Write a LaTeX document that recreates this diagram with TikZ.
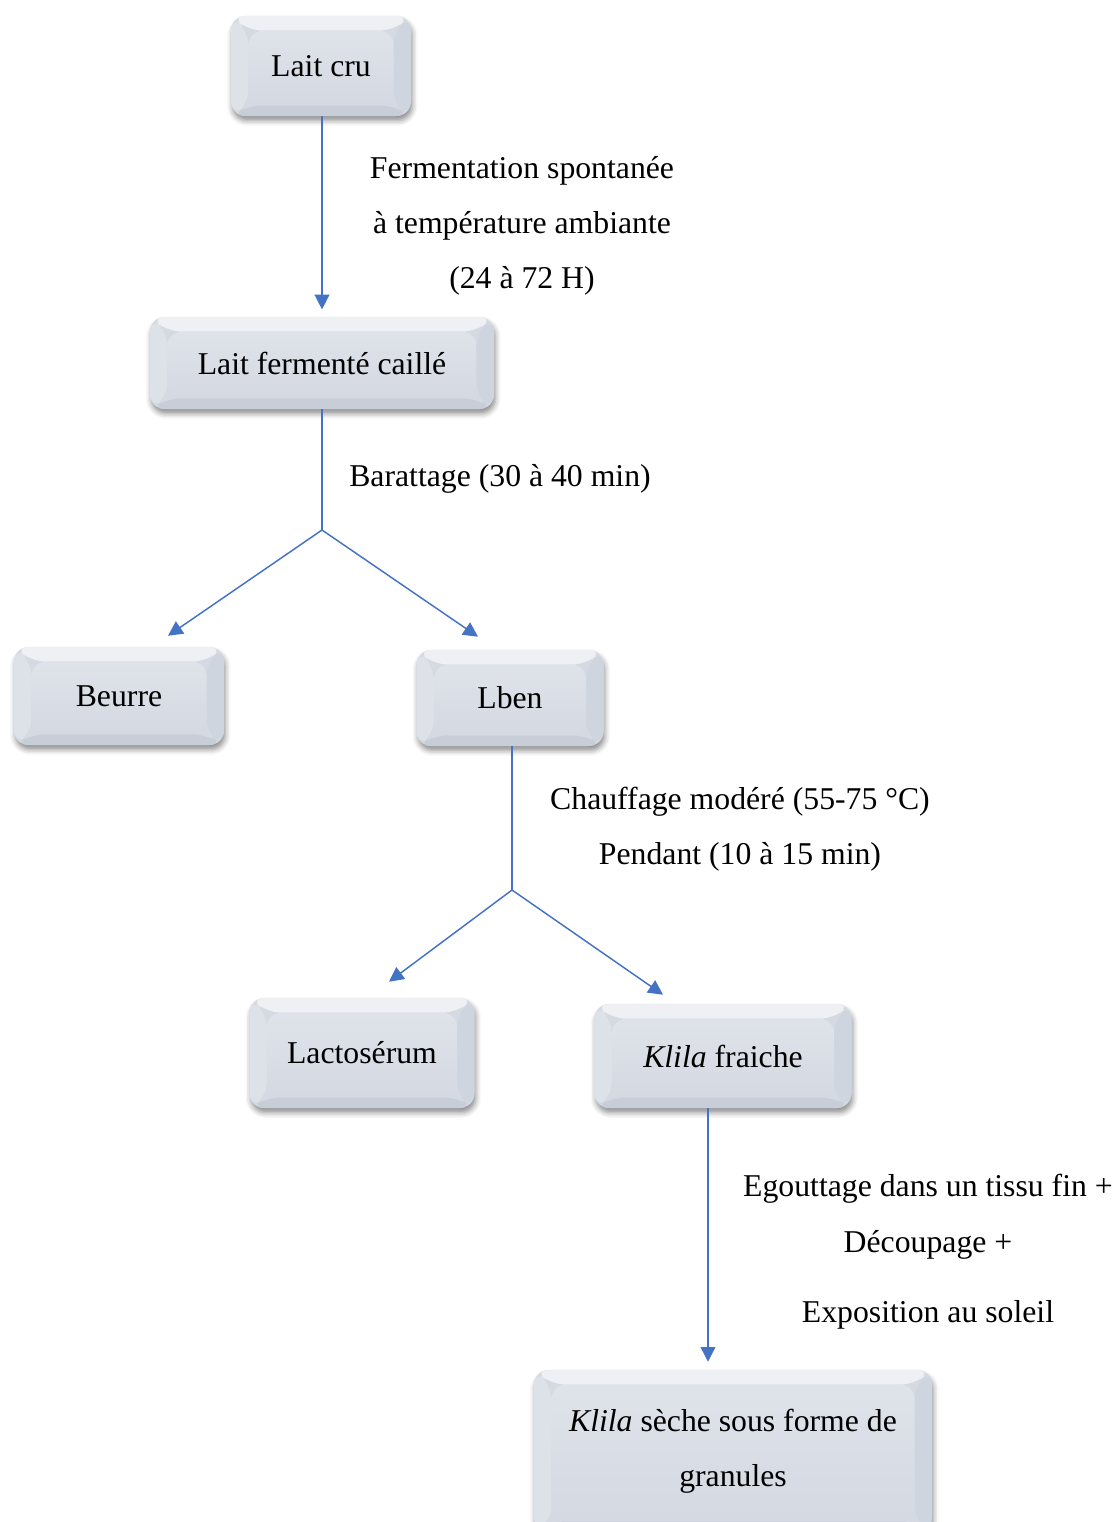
\documentclass[tikz,border=0pt]{standalone}
\usepackage{fontspec}
\setmainfont{Liberation Serif}
\usetikzlibrary{arrows.meta,calc,shadows.blur}

\definecolor{flowblue}{HTML}{4472C4}
\definecolor{bevface}{HTML}{D4D9E2}
\definecolor{bevtop}{HTML}{EEF0F4}
\definecolor{bevleft}{HTML}{DDE1E8}
\definecolor{bevright}{HTML}{CFD5DE}
\definecolor{bevbottom}{HTML}{C8CED8}

\tikzset{
  bevelbox/.style 2 args={
    rounded corners=11pt, draw=none, fill=bevface,
    minimum width=#1*0.75pt, minimum height=#2*0.75pt,
    font=\fontsize{23.8}{41}\selectfont, align=center, inner sep=0pt,
    blur shadow={shadow xshift=1pt, shadow yshift=-3.5pt,
                 shadow blur radius=4pt, shadow opacity=45},
    path picture={
      \coordinate (pNW) at (path picture bounding box.north west);
      \coordinate (pNE) at (path picture bounding box.north east);
      \coordinate (pSW) at (path picture bounding box.south west);
      \coordinate (pSE) at (path picture bounding box.south east);
      \coordinate (iNW) at ([xshift=13pt,yshift=-11pt]pNW);
      \coordinate (iNE) at ([xshift=-13pt,yshift=-11pt]pNE);
      \coordinate (iSW) at ([xshift=13pt,yshift=8pt]pSW);
      \coordinate (iSE) at ([xshift=-13pt,yshift=8pt]pSE);
      \fill[bevtop] (pNW) -- (pNE) -- (iNE) -- (iNW) -- cycle;
      \fill[bevleft] (pNW) -- (iNW) -- (iSW) -- (pSW) -- cycle;
      \fill[bevright] (pNE) -- (iNE) -- (iSE) -- (pSE) -- cycle;
      \fill[bevbottom] (pSW) -- (iSW) -- (iSE) -- (pSE) -- cycle;
      \shade[top color=bevface!75!white, bottom color=bevface]
        (iNW) rectangle (iSE);
    }
  },
  flow/.style={draw=flowblue, line width=1.1pt},
  arr/.style={flow, -{Triangle[length=11pt,width=11pt]}},
  steplabel/.style={font=\fontsize{23.8}{41}\selectfont, align=center, inner sep=0pt}
}

\begin{document}
\begin{tikzpicture}[x=0.75pt,y=-0.75pt]
  \useasboundingbox (0,0) rectangle (1117,1522);

  % process boxes
  \node[bevelbox={180}{100}] (laitcru)  at (321,66)   {Lait cru};
  \node[bevelbox={344}{92}]  (fermente) at (322,363)  {Lait fermenté caillé};
  \node[bevelbox={210}{98}]  (beurre)   at (119,696)  {Beurre};
  \node[bevelbox={187}{96}]  (lben)     at (510,698)  {Lben};
  \node[bevelbox={225}{110}] (lacto)    at (362,1053) {Lactosérum};
  \node[bevelbox={257}{104}] (kfraiche) at (723,1056) {\textit{Klila} fraiche};
  \node[bevelbox={398}{162}] (kseche)   at (733,1451)
       {\textit{Klila} sèche sous forme de\\granules};

  % step labels
  \node[steplabel] (lab1) at (522,226)
       {Fermentation spontanée\\à température ambiante\\(24 à 72 H)};
  \node[steplabel] (lab2) at (500,479) {Barattage (30 à 40 min)};
  \node[steplabel] (lab3) at (740,829)
       {Chauffage modéré (55-75 °C)\\Pendant (10 à 15 min)};
  \node[steplabel] (lab4) at (928,1189) {Egouttage dans un tissu fin +};
  \node[steplabel] (lab5) at (928,1245) {Découpage +};
  \node[steplabel] (lab6) at (928,1315) {Exposition au soleil};

  % branching points
  \coordinate (j1) at (322,530);
  \coordinate (j2) at (512,890);

  % connectors
  \draw[arr, shorten >=4pt] (laitcru.south -| fermente.north) -- ($(fermente.north)+(0,-2)$);
  \draw[flow] (fermente.south) -- (j1);
  \draw[arr] (j1) -- ($(beurre.north)+(49,-11)$);
  \draw[arr] (j1) -- ($(lben.north)+(-32,-13)$);
  \draw[flow] ($(lben.south)+(2,0)$) -- (j2);
  \draw[arr] (j2) -- ($(lacto.north)+(27,-16)$);
  \draw[arr] (j2) -- ($(kfraiche.north)+(-60,-9)$);
  \draw[arr] ($(kfraiche.south)+(-15,0)$) -- ($(kseche.north)+(-25,-8)$);
\end{tikzpicture}
\end{document}
